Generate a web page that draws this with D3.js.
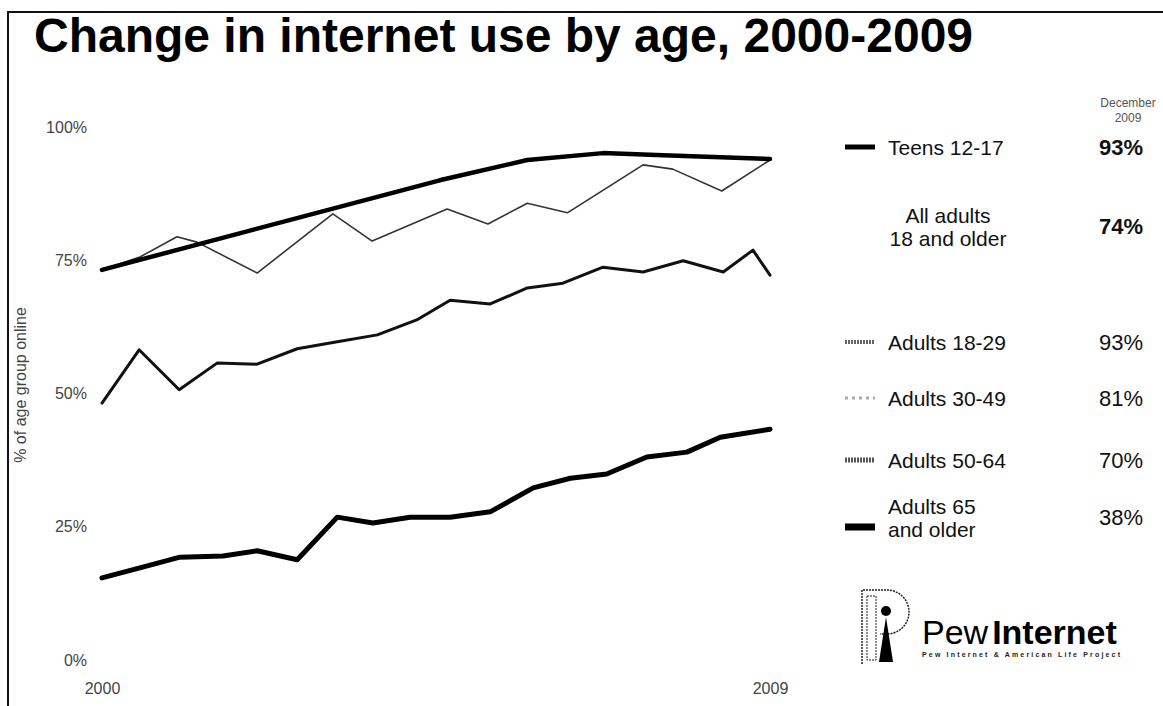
<!DOCTYPE html>
<meta charset="utf-8">
<style>
body { margin: 0; background: #fff; }
svg { display: block; font-family: "Liberation Sans", Arial, sans-serif; }
.tick-label { fill: #444; font-size: 16px; }
.legend-label { fill: #111; font-size: 21px; }
.legend-value { fill: #111; font-size: 22px; }
.series { fill: none; stroke-linejoin: round; stroke-linecap: round; }
</style>
<body>
<script src="https://d3js.org/d3.v7.min.js"></script>
<script>

var width = 1163,
    height = 706;

// survey dates (decimal years) and % online
var teensYears  = [2000.0, 2004.55, 2005.73, 2006.75, 2007.56, 2009.0];
var teensValues = [73.2, 90.0, 93.8, 95.1, 94.7, 94.0];

var a1829Years  = [2000.0, 2000.51, 2001.01, 2001.28, 2002.09, 2003.11, 2003.64, 2004.65,
                   2005.20, 2005.73, 2006.27, 2007.29, 2007.69, 2008.35, 2009.0];
var a1829Values = [73.2, 75.6, 79.4, 78.4, 72.6, 83.7, 78.6, 84.6,
                   81.8, 85.7, 83.9, 92.9, 92.1, 88.0, 93.8];

var a5064Years  = [2000.0, 2000.50, 2001.04, 2001.55, 2002.09, 2002.63, 2003.17, 2003.71, 2004.24,
                   2004.69, 2005.23, 2005.73, 2006.21, 2006.75, 2007.29, 2007.83, 2008.37, 2008.77, 2009.0];
var a5064Values = [48.2, 58.2, 50.7, 55.7, 55.5, 58.4, 59.7, 61.0, 63.8,
                   67.5, 66.8, 69.8, 70.7, 73.7, 72.8, 74.9, 72.8, 76.9, 72.2];

var a65Years  = [2000.0, 2000.51, 2001.05, 2001.63, 2002.09, 2002.63, 2003.17, 2003.65, 2004.15,
                 2004.69, 2005.23, 2005.81, 2006.31, 2006.80, 2007.34, 2007.88, 2008.33, 2009.0];
var a65Values = [15.4, 17.3, 19.3, 19.5, 20.5, 18.8, 26.8, 25.7, 26.8,
                 26.8, 27.8, 32.3, 34.1, 34.9, 38.1, 39.0, 41.8, 43.3];

var yTicks = [0, 25, 50, 75, 100];
var xTickLabels = ["2000", "2009"];

var legendLabels = [["Teens 12-17"], ["All adults", "18 and older"], ["Adults 18-29"],
                    ["Adults 30-49"], ["Adults 50-64"], ["Adults 65", "and older"]];
var legendValues = ["93%", "74%", "93%", "81%", "70%", "38%"];

var x = d3.scaleLinear().domain([2000, 2009]).range([102, 770]);
var y = d3.scaleLinear().domain([0, 100]).range([660, 127]);

var svg = d3.select("body").append("svg")
    .attr("width", width)
    .attr("height", height);

// scanned frame
svg.append("path")
    .attr("d", "M8," + height + "V12H" + width)
    .attr("fill", "none")
    .attr("stroke", "#111")
    .attr("stroke-width", 2);

svg.append("text")
    .attr("x", 34)
    .attr("y", 52)
    .attr("font-size", 48)
    .attr("font-weight", "bold")
    .attr("fill", "#000")
    .text("Change in internet use by age, 2000-2009");

// y axis: labels only
var yAxis = d3.axisLeft(y).tickValues(yTicks).tickFormat(function(d) { return d + "%"; }).tickSize(0).tickPadding(0);
var gy = svg.append("g").attr("transform", "translate(87,0)").call(yAxis);
gy.select(".domain").remove();
gy.selectAll("text").attr("class", "tick-label").attr("font-family", null).attr("font-size", null).attr("fill", null);

svg.append("text")
    .attr("class", "tick-label")
    .attr("transform", "translate(26,385) rotate(-90)")
    .attr("text-anchor", "middle")
    .text("% of age group online");

// x axis: end labels only
var xAxis = d3.axisBottom(x).tickValues([2000, 2009]).tickFormat(function(d, i) { return xTickLabels[i]; }).tickSize(0).tickPadding(0);
var gx = svg.append("g").attr("transform", "translate(0,683)").call(xAxis);
gx.select(".domain").remove();
gx.selectAll("text").attr("class", "tick-label").attr("font-family", null).attr("font-size", null).attr("fill", null);

var line = d3.line()
    .x(function(d) { return x(d[0]); })
    .y(function(d) { return y(d[1]); });

var series = [
  {years: a65Years, values: a65Values, color: "#000", w: 5},
  {years: a5064Years, values: a5064Values, color: "#111", w: 3},
  {years: a1829Years, values: a1829Values, color: "#333", w: 1.6},
  {years: teensYears, values: teensValues, color: "#000", w: 4.5}
];

svg.selectAll(".series")
    .data(series)
  .enter().append("path")
    .attr("class", "series")
    .attr("stroke", function(d) { return d.color; })
    .attr("stroke-width", function(d) { return d.w; })
    .attr("d", function(d) { return line(d3.zip(d.years, d.values)); });

// legend
svg.append("text")
    .attr("x", 1128).attr("y", 107)
    .attr("text-anchor", "middle")
    .attr("font-size", 12).attr("fill", "#555")
    .selectAll("tspan")
    .data(["December", "2009"])
  .enter().append("tspan")
    .attr("x", 1128)
    .attr("dy", function(d, i) { return i ? 15 : 0; })
    .text(function(d) { return d; });

var legendY = [147, 226, 342, 398, 460, 517];
var swatch = [
  {color: "#000", w: 5, dash: null},
  null,
  {color: "#666", w: 4, dash: "2,1"},
  {color: "#aaa", w: 3, dash: "3,4"},
  {color: "#555", w: 5, dash: "2,1"},
  {color: "#000", w: 7, dash: null}
];

var lg = svg.selectAll(".legend")
    .data(legendLabels)
  .enter().append("g")
    .attr("class", "legend")
    .attr("transform", function(d, i) { return "translate(0," + legendY[i] + ")"; });

lg.each(function(d, i) {
  var g = d3.select(this);
  var s = swatch[i];
  if (s) {
    g.append("line")
      .attr("x1", 845).attr("x2", 875)
      .attr("y1", i === 5 ? 10 : 0).attr("y2", i === 5 ? 10 : 0)
      .attr("stroke", s.color)
      .attr("stroke-width", s.w)
      .attr("stroke-dasharray", s.dash);
  }
  // one text element per line so wrapped labels do not share a box
  d.forEach(function(txt, j) {
    g.append("text")
      .attr("class", "legend-label")
      .attr("text-anchor", i === 1 ? "middle" : "start")
      .attr("x", i === 1 ? 948 : 888)
      .attr("y", (j - (d.length - 1) / 2) * 23 + 8)
      .text(txt);
  });
  g.append("text")
      .attr("class", "legend-value")
      .attr("x", 1143).attr("y", 8)
      .attr("text-anchor", "end")
      .attr("font-weight", i < 2 ? "bold" : null)
      .text(legendValues[i]);
});

// Pew Internet logo
var logo = svg.append("g");
logo.append("path")
    .attr("d", "M862,664V590H887A22,22 0 0 1 887,634H880")
    .attr("fill", "none").attr("stroke", "#222").attr("stroke-width", 1.5).attr("stroke-dasharray", "2,1");
logo.append("rect")
    .attr("x", 867).attr("y", 596).attr("width", 9).attr("height", 64)
    .attr("fill", "none").attr("stroke", "#222").attr("stroke-width", 1).attr("stroke-dasharray", "2,1");
logo.append("circle").attr("cx", 886).attr("cy", 611).attr("r", 5).attr("fill", "#000");
logo.append("path").attr("d", "M886,617L879,662H893Z").attr("fill", "#000");

var pew = logo.append("text")
    .attr("x", 922).attr("y", 644)
    .attr("font-size", 34).attr("fill", "#000");
pew.append("tspan").text("Pew");
pew.append("tspan").attr("font-weight", "bold").attr("dx", 4).text("Internet");

logo.append("text")
    .attr("x", 922).attr("y", 657)
    .attr("font-size", 7).attr("font-weight", "bold").attr("fill", "#222")
    .attr("textLength", 198)
    .text("Pew Internet & American Life Project");

</script>
